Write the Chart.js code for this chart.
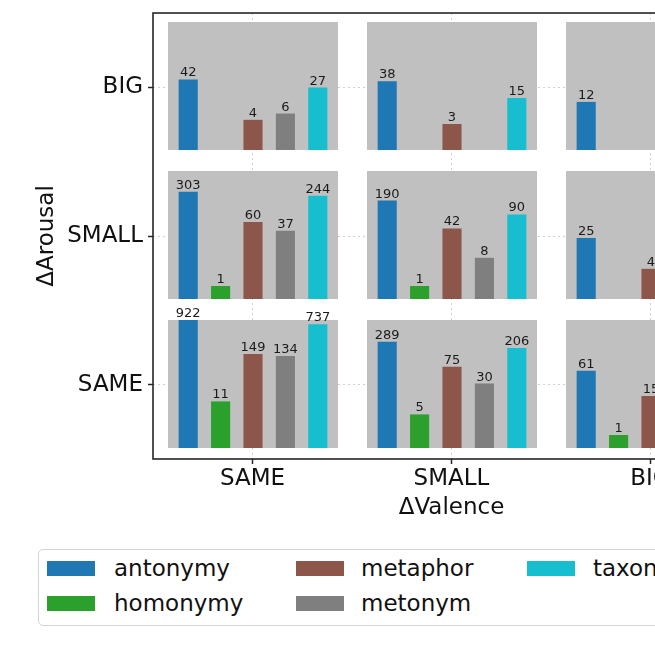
<!DOCTYPE html>
<html><head><meta charset="utf-8">
<script src="https://cdn.jsdelivr.net/npm/chart.js@4/dist/chart.umd.min.js"></script>
<style>
html,body{margin:0;padding:0;background:#fff;overflow:hidden;}
#wrap{position:relative;width:820px;height:655px;}
#outer{position:absolute;left:0;top:0;}
.cell{position:absolute;}
#legend{position:absolute;left:38px;top:549px;width:720px;height:75px;border:1px solid #d4d4d4;border-radius:5px;background:#fff;font-family:'DejaVu Sans',sans-serif;font-size:23px;color:#111;}
.sw{position:absolute;width:48px;height:15px;}
.lt{position:absolute;line-height:27px;white-space:nowrap;}
</style></head>
<body><div id="wrap"><canvas id="outer" width="820" height="540"></canvas><div id="legend"></div></div>
<script>
const relations = ['antonymy','homonymy','metaphor','metonym','taxonomy'];
const relationColors = ['#1f77b4','#2ca02c','#8c564b','#7f7f7f','#17becf'];
const valenceLevels = ['SAME','SMALL','BIG'];   // x axis: ΔValence
const arousalLevels = ['BIG','SMALL','SAME'];   // y axis: ΔArousal (top to bottom)

// counts per relation [antonymy, homonymy, metaphor, metonym, taxonomy]; null = no bar
const arousalBig_valenceSame    = [42, null, 4, 6, 27];
const arousalBig_valenceSmall   = [38, null, 3, null, 15];
const arousalBig_valenceBig     = [12, null, null, null, null];
const arousalSmall_valenceSame  = [303, 1, 60, 37, 244];
const arousalSmall_valenceSmall = [190, 1, 42, 8, 90];
const arousalSmall_valenceBig   = [25, null, 4, null, null];
const arousalSame_valenceSame   = [922, 11, 149, 134, 737];
const arousalSame_valenceSmall  = [289, 5, 75, 30, 206];
const arousalSame_valenceBig    = [61, 1, 15, null, null];

const cellCounts = [
  [arousalBig_valenceSame, arousalBig_valenceSmall, arousalBig_valenceBig],
  [arousalSmall_valenceSame, arousalSmall_valenceSmall, arousalSmall_valenceBig],
  [arousalSame_valenceSame, arousalSame_valenceSmall, arousalSame_valenceBig]
];

const FONT = "'DejaVu Sans', 'Liberation Sans', sans-serif";
const INK = '#111';

const framePlugin = {
  id: 'frame',
  afterDraw(c) {
    const a = c.chartArea, x = c.ctx;
    x.save(); x.strokeStyle = '#262626'; x.lineWidth = 1.6;
    x.strokeRect(a.left, a.top, a.right - a.left, a.bottom - a.top);
    x.restore();
  }
};

const axisCommon = (labels) => ({
  type: 'category', labels, offset: true,
  grid: {offset: false, color: '#d0d0d0', lineWidth: 1, tickColor: '#262626', tickWidth: 1.5, tickLength: 5},
  border: {display: false, dash: [2, 3]},
  ticks: {font: {family: FONT, size: 23}, color: INK, maxRotation: 0, autoSkip: false}
});

const xAxis = axisCommon(valenceLevels);
xAxis.ticks.padding = 1;
xAxis.title = {display: true, text: 'ΔValence', font: {family: FONT, size: 23}, color: INK, padding: {top: 0, bottom: 18}};
xAxis.afterFit = (s) => { s.height = 81; s.paddingLeft = 0; s.paddingRight = 0; };

const yAxis = axisCommon(arousalLevels);
yAxis.ticks.padding = 5;
yAxis.title = {display: true, text: 'ΔArousal', font: {family: FONT, size: 23}, color: INK, padding: {top: 33, bottom: 0}};
yAxis.afterFit = (s) => { s.width = 153; s.paddingTop = 0; s.paddingBottom = 0; };

const outer = new Chart(document.getElementById('outer'), {
  type: 'scatter',
  data: {datasets: []},
  options: {
    responsive: false, animation: false, events: [],
    layout: {padding: {top: 13, right: 70, left: 0, bottom: 0}},
    plugins: {legend: {display: false}, tooltip: {enabled: false}},
    scales: {x: xAxis, y: yAxis}
  },
  plugins: [framePlugin]
});

const cellBg = {
  id: 'cellBg',
  beforeDraw(c) {
    const a = c.chartArea, x = c.ctx;
    x.save(); x.fillStyle = '#c0c0c0';
    x.fillRect(0, a.top, c.width, a.bottom - a.top);
    x.restore();
  }
};
const barLabels = {
  id: 'barLabels',
  afterDatasetsDraw(c) {
    const x = c.ctx, ds = c.data.datasets[0], meta = c.getDatasetMeta(0);
    x.save();
    x.font = '13px ' + FONT; x.fillStyle = '#1a1a1a';
    x.textAlign = 'center'; x.textBaseline = 'alphabetic';
    meta.data.forEach((bar, i) => {
      const n = ds.counts[i];
      if (n == null) return;
      x.fillText(String(n), bar.x, bar.y - 3);
    });
    x.restore();
  }
};

const allCounts = cellCounts.flat(2).filter(v => v != null);
const yMax = Math.log10(1 + Math.max(...allCounts));
const xs = outer.scales.x, ys = outer.scales.y;
const slotW = (xs.right - xs.left) / valenceLevels.length;
const slotH = (ys.bottom - ys.top) / arousalLevels.length;
const cellW = Math.round(slotW * 0.855), cellH = Math.round(slotH * 0.86);
const LABEL_ROOM = 18;
const wrap = document.getElementById('wrap');

arousalLevels.forEach((a, r) => valenceLevels.forEach((v, c) => {
  const cx = xs.getPixelForValue(c), cy = ys.getPixelForValue(r) - 1;
  const cv = document.createElement('canvas');
  cv.width = cellW; cv.height = cellH + LABEL_ROOM;
  cv.className = 'cell';
  cv.style.left = Math.round(cx - cellW / 2) + 'px';
  cv.style.top = Math.round(cy - cellH / 2 - LABEL_ROOM) + 'px';
  wrap.appendChild(cv);
  const counts = cellCounts[r][c];
  new Chart(cv, {
    type: 'bar',
    data: {labels: relations, datasets: [{
      data: counts.map(n => n == null ? null : Math.log10(1 + n)),
      counts, backgroundColor: relationColors, barPercentage: 0.59, categoryPercentage: 1
    }]},
    options: {
      responsive: false, animation: false, events: [],
      layout: {padding: {top: LABEL_ROOM, left: 4, right: 4, bottom: 0}},
      plugins: {legend: {display: false}, tooltip: {enabled: false}},
      scales: {x: {display: false}, y: {display: false, min: 0, max: yMax}}
    },
    plugins: [cellBg, barLabels]
  });
}));

// legend (matplotlib-style, filled column by column, 2 rows)
const legend = document.getElementById('legend');
const swLeft = [8, 257, 488], txLeft = [75, 322, 554];
const swTop = [11, 46], txTop = [4.6, 39.6];
relations.forEach((name, i) => {
  const col = Math.floor(i / 2), row = i % 2;
  const sw = document.createElement('div');
  sw.className = 'sw'; sw.style.background = relationColors[i];
  sw.style.left = swLeft[col] + 'px'; sw.style.top = swTop[row] + 'px';
  const t = document.createElement('div');
  t.className = 'lt'; t.textContent = name;
  t.style.left = txLeft[col] + 'px'; t.style.top = txTop[row] + 'px';
  legend.appendChild(sw); legend.appendChild(t);
});
</script>
</body></html>
